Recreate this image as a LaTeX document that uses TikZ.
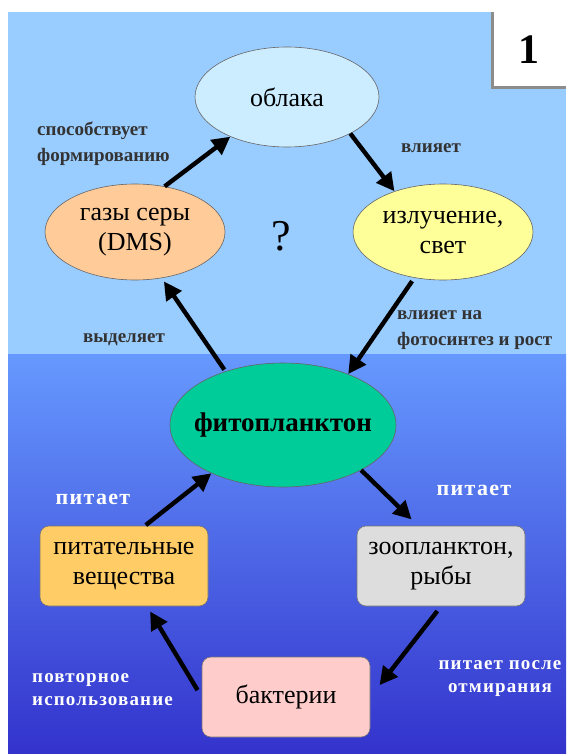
\documentclass[tikz,border=0pt]{standalone}
\usepackage{fontspec}
\setmainfont{Liberation Serif}
\usetikzlibrary{shapes.geometric,arrows.meta}
\definecolor{sky}{HTML}{99CCFF}
\definecolor{watertop}{HTML}{6699FF}
\definecolor{waterbot}{HTML}{3333CC}
\definecolor{cloudc}{HTML}{CCECFF}
\definecolor{gasc}{HTML}{FFCC99}
\definecolor{lightc}{HTML}{FFFF99}
\definecolor{phytoc}{HTML}{00CC99}
\definecolor{nutc}{HTML}{FFCC66}
\definecolor{zooc}{HTML}{DDDDDD}
\definecolor{bacc}{HTML}{FFCCCC}
\definecolor{labc}{HTML}{333333}
\tikzset{
  ell/.style={ellipse, draw=black!60, line width=0.6pt, inner sep=0pt, align=center, font=\fontsize{26}{30}\selectfont},
  rbox/.style={rectangle, rounded corners=9pt, draw=black!55, line width=0.6pt, inner sep=0pt, align=center,
     minimum width=168pt, minimum height=80pt, font=\fontsize{26}{30}\selectfont},
  arr/.style={line width=4.4pt, -{Triangle[length=18pt,width=18pt]}},
  lab/.style={text=labc, font=\bfseries\fontsize{19}{26}\selectfont, inner sep=0pt},
  wlab/.style={text=white, font=\bfseries\fontsize{19}{23}\selectfont\addfontfeatures{LetterSpace=6}, inner sep=0pt}
}
\begin{document}
\begin{tikzpicture}[x=1pt,y=-1pt]
\useasboundingbox (0,0) rectangle (566,754);
\fill[white] (0,0) rectangle (566,754);
\fill[sky] (8,12) rectangle (566,354);
\shade[top color=watertop, bottom color=waterbot] (8,354) rectangle (566,754);
% box 1
\fill[black!45] (491,12) rectangle (566,89);
\fill[white] (494,12) rectangle (566,86);
\node (num) at (529,50) {\bfseries\fontsize{42}{42}\selectfont 1};
% nodes
\node[ell, fill=cloudc, minimum width=184pt, minimum height=100pt] (obl) at (287,97) {облака};
\node[ell, fill=gasc, minimum width=180pt, minimum height=96pt] (gas) at (135,232) {газы серы\\(DMS)};
\node[ell, fill=lightc, minimum width=180pt, minimum height=96pt] (izl) at (443,232) {излучение,\\свет};
\node[ell, fill=phytoc, minimum width=226pt, minimum height=124pt, font=\bfseries\fontsize{27}{30}\selectfont] (fito) at (283,425) {\makebox[140pt]{фитопланктон}};
\node (q) at (281,236) {\fontsize{44}{44}\selectfont ?};
\node[rbox, fill=nutc] (pit) at (124,566) {питательные\\вещества};
\node[rbox, fill=zooc] (zoo) at (441,566) {зоопланктон,\\рыбы};
\node[rbox, fill=bacc] (bak) at (286,697) {бактерии};
% arrows
\draw[arr] (gas.57) -- (obl.215);
\draw[arr] (obl.330) -- (izl.140);
\draw[arr, shorten <=4pt] (izl.238) -- (fito.38);
\draw[arr, shorten <=2pt, shorten >=4pt] (fito.137) -- (gas.300);
\draw[arr, shorten >=9pt] (fito.330) -- ([xshift=-23pt]zoo.north);
\draw[arr, shorten <=6pt, shorten >=15pt] (zoo.south) -- (bak.east);
\draw[arr, shorten <=8pt, shorten >=6pt] (bak.west) -- ([xshift=23pt]pit.south);
\draw[arr, shorten <=1pt] ([xshift=21pt]pit.north) -- (fito.214);
% labels
\node[lab, align=left, anchor=west] (l1) at (37,144) {способствует\\формированию};
\node[lab] (l2) at (431,148) {влияет};
\node[lab] (l3) at (124,340) {выделяет};
\node[lab, align=left, anchor=west] (l4) at (397,330) {влияет на\\фотосинтез и рост};
\node[wlab, font=\bfseries\fontsize{22}{24}\selectfont\addfontfeatures{LetterSpace=6}] (l5) at (93,499) {питает};
\node[wlab, font=\bfseries\fontsize{22}{24}\selectfont\addfontfeatures{LetterSpace=6}] (l6) at (474,490) {питает};
\node[wlab, align=left, anchor=west] (l7) at (32,690) {повторное\\использование};
\node[wlab, align=center] (l8) at (500,679) {питает после\\отмирания};
\end{tikzpicture}
\end{document}
